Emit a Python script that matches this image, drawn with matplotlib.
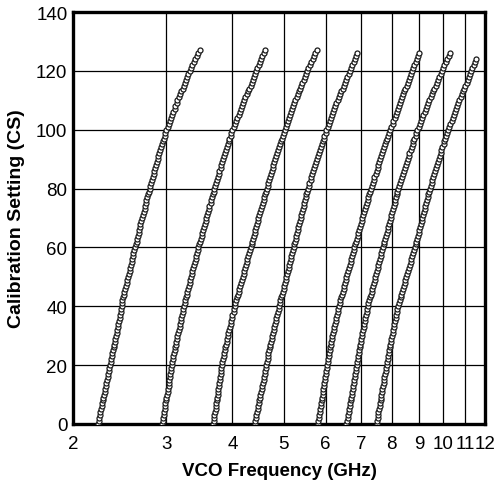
import matplotlib
matplotlib.use("Agg")
import matplotlib.pyplot as plt
from matplotlib.ticker import FixedLocator, FixedFormatter, NullLocator

plt.rcParams['font.family'] = ['Liberation Sans', 'DejaVu Sans']

# calibration settings (CS) and measured VCO frequency (GHz), one list per VCO band
cs_127 = list(range(128))
cs_126 = list(range(127))
cs_124 = list(range(125))

vco1 = [2.23, 2.24, 2.24, 2.25, 2.25, 2.26, 2.27, 2.27, 2.28, 2.28,
        2.29, 2.30, 2.30, 2.31, 2.31, 2.32, 2.33, 2.33, 2.34, 2.34,
        2.35, 2.36, 2.36, 2.37, 2.37, 2.38, 2.39, 2.39, 2.40, 2.40,
        2.41, 2.42, 2.42, 2.43, 2.43, 2.44, 2.45, 2.45, 2.46, 2.46,
        2.47, 2.48, 2.48, 2.49, 2.50, 2.50, 2.51, 2.52, 2.53, 2.53,
        2.54, 2.55, 2.56, 2.56, 2.57, 2.58, 2.59, 2.60, 2.60, 2.61,
        2.62, 2.63, 2.64, 2.64, 2.65, 2.66, 2.67, 2.68, 2.68, 2.69,
        2.70, 2.71, 2.72, 2.73, 2.74, 2.75, 2.75, 2.76, 2.77, 2.78,
        2.79, 2.80, 2.81, 2.82, 2.83, 2.84, 2.85, 2.86, 2.87, 2.88,
        2.89, 2.90, 2.91, 2.92, 2.93, 2.95, 2.96, 2.97, 2.98, 2.99,
        3.00, 3.02, 3.03, 3.05, 3.06, 3.08, 3.09, 3.11, 3.12, 3.14,
        3.15, 3.17, 3.18, 3.20, 3.22, 3.24, 3.25, 3.27, 3.29, 3.30,
        3.32, 3.34, 3.36, 3.38, 3.40, 3.43, 3.45, 3.47]

vco2 = [2.95, 2.96, 2.96, 2.97, 2.97, 2.98, 2.99, 2.99, 3.00, 3.00,
        3.01, 3.02, 3.02, 3.03, 3.03, 3.04, 3.05, 3.05, 3.06, 3.06,
        3.07, 3.08, 3.09, 3.09, 3.10, 3.11, 3.12, 3.13, 3.13, 3.14,
        3.15, 3.16, 3.17, 3.18, 3.19, 3.20, 3.20, 3.21, 3.22, 3.23,
        3.24, 3.25, 3.26, 3.27, 3.28, 3.29, 3.30, 3.31, 3.32, 3.33,
        3.34, 3.35, 3.36, 3.37, 3.38, 3.40, 3.41, 3.42, 3.43, 3.44,
        3.45, 3.46, 3.47, 3.49, 3.50, 3.51, 3.52, 3.53, 3.55, 3.56,
        3.57, 3.58, 3.60, 3.61, 3.62, 3.64, 3.65, 3.66, 3.67, 3.69,
        3.70, 3.71, 3.73, 3.74, 3.76, 3.77, 3.78, 3.80, 3.81, 3.83,
        3.84, 3.86, 3.87, 3.89, 3.90, 3.92, 3.94, 3.95, 3.97, 3.98,
        4.00, 4.02, 4.04, 4.06, 4.08, 4.11, 4.13, 4.15, 4.17, 4.19,
        4.21, 4.23, 4.26, 4.28, 4.30, 4.33, 4.35, 4.37, 4.39, 4.42,
        4.44, 4.46, 4.49, 4.51, 4.53, 4.55, 4.58, 4.60]

vco3 = [3.68, 3.69, 3.69, 3.70, 3.71, 3.72, 3.72, 3.73, 3.74, 3.74,
        3.75, 3.76, 3.76, 3.77, 3.78, 3.79, 3.79, 3.80, 3.81, 3.81,
        3.82, 3.83, 3.84, 3.85, 3.86, 3.87, 3.88, 3.89, 3.90, 3.91,
        3.92, 3.93, 3.94, 3.96, 3.97, 3.98, 3.99, 4.00, 4.02, 4.03,
        4.04, 4.05, 4.07, 4.08, 4.10, 4.11, 4.12, 4.14, 4.15, 4.17,
        4.18, 4.20, 4.21, 4.23, 4.24, 4.26, 4.27, 4.29, 4.30, 4.32,
        4.33, 4.35, 4.36, 4.38, 4.39, 4.41, 4.42, 4.44, 4.45, 4.47,
        4.48, 4.50, 4.51, 4.53, 4.54, 4.56, 4.58, 4.59, 4.61, 4.62,
        4.64, 4.66, 4.68, 4.69, 4.71, 4.73, 4.75, 4.77, 4.78, 4.80,
        4.82, 4.84, 4.86, 4.88, 4.90, 4.92, 4.94, 4.96, 4.98, 5.00,
        5.02, 5.04, 5.07, 5.09, 5.12, 5.14, 5.16, 5.19, 5.21, 5.24,
        5.26, 5.29, 5.31, 5.34, 5.37, 5.39, 5.42, 5.45, 5.48, 5.50,
        5.53, 5.56, 5.60, 5.63, 5.67, 5.70, 5.74, 5.77]

vco4 = [4.41, 4.42, 4.43, 4.44, 4.45, 4.47, 4.48, 4.49, 4.50, 4.51,
        4.52, 4.53, 4.54, 4.55, 4.56, 4.58, 4.59, 4.60, 4.61, 4.62,
        4.63, 4.64, 4.66, 4.67, 4.68, 4.70, 4.71, 4.72, 4.73, 4.75,
        4.76, 4.77, 4.79, 4.80, 4.82, 4.83, 4.84, 4.86, 4.87, 4.89,
        4.90, 4.92, 4.93, 4.95, 4.96, 4.98, 5.00, 5.01, 5.03, 5.04,
        5.06, 5.08, 5.09, 5.11, 5.12, 5.14, 5.16, 5.17, 5.19, 5.20,
        5.22, 5.24, 5.25, 5.27, 5.28, 5.30, 5.32, 5.33, 5.35, 5.36,
        5.38, 5.40, 5.41, 5.43, 5.45, 5.47, 5.48, 5.50, 5.52, 5.53,
        5.55, 5.57, 5.59, 5.62, 5.64, 5.66, 5.68, 5.70, 5.73, 5.75,
        5.77, 5.80, 5.82, 5.85, 5.87, 5.90, 5.92, 5.95, 5.97, 6.00,
        6.02, 6.05, 6.08, 6.11, 6.14, 6.17, 6.20, 6.23, 6.26, 6.29,
        6.32, 6.35, 6.39, 6.42, 6.46, 6.49, 6.52, 6.56, 6.59, 6.63,
        6.66, 6.70, 6.74, 6.78, 6.82, 6.85, 6.89]

vco5 = [5.80, 5.81, 5.82, 5.84, 5.85, 5.86, 5.87, 5.88, 5.90, 5.91,
        5.92, 5.93, 5.94, 5.96, 5.97, 5.98, 5.99, 6.00, 6.02, 6.03,
        6.04, 6.05, 6.07, 6.08, 6.10, 6.11, 6.12, 6.14, 6.15, 6.17,
        6.18, 6.20, 6.22, 6.23, 6.25, 6.27, 6.29, 6.31, 6.32, 6.34,
        6.36, 6.38, 6.40, 6.42, 6.44, 6.47, 6.49, 6.51, 6.53, 6.55,
        6.57, 6.59, 6.62, 6.64, 6.66, 6.69, 6.71, 6.73, 6.75, 6.78,
        6.80, 6.82, 6.85, 6.87, 6.90, 6.92, 6.94, 6.97, 6.99, 7.02,
        7.04, 7.07, 7.09, 7.12, 7.14, 7.17, 7.20, 7.22, 7.25, 7.27,
        7.30, 7.33, 7.36, 7.39, 7.42, 7.46, 7.49, 7.52, 7.55, 7.58,
        7.61, 7.64, 7.68, 7.71, 7.75, 7.78, 7.81, 7.85, 7.88, 7.92,
        7.95, 7.99, 8.03, 8.06, 8.10, 8.14, 8.18, 8.22, 8.25, 8.29,
        8.33, 8.37, 8.41, 8.45, 8.49, 8.54, 8.58, 8.62, 8.66, 8.70,
        8.74, 8.79, 8.83, 8.88, 8.93, 8.97, 9.02]

vco6 = [6.57, 6.59, 6.60, 6.62, 6.63, 6.65, 6.66, 6.68, 6.69, 6.71,
        6.72, 6.74, 6.75, 6.77, 6.78, 6.80, 6.81, 6.83, 6.84, 6.86,
        6.87, 6.89, 6.90, 6.92, 6.93, 6.95, 6.96, 6.98, 6.99, 7.01,
        7.02, 7.04, 7.06, 7.08, 7.10, 7.12, 7.13, 7.15, 7.17, 7.19,
        7.21, 7.23, 7.26, 7.28, 7.31, 7.33, 7.35, 7.38, 7.40, 7.43,
        7.45, 7.48, 7.50, 7.53, 7.55, 7.58, 7.60, 7.63, 7.65, 7.68,
        7.70, 7.73, 7.75, 7.78, 7.80, 7.83, 7.86, 7.88, 7.91, 7.93,
        7.96, 7.99, 8.01, 8.04, 8.07, 8.10, 8.12, 8.15, 8.18, 8.20,
        8.23, 8.26, 8.30, 8.33, 8.37, 8.40, 8.43, 8.47, 8.50, 8.54,
        8.57, 8.61, 8.64, 8.68, 8.72, 8.76, 8.79, 8.83, 8.87, 8.90,
        8.94, 8.99, 9.04, 9.08, 9.13, 9.18, 9.23, 9.28, 9.32, 9.37,
        9.42, 9.47, 9.52, 9.58, 9.63, 9.68, 9.73, 9.78, 9.84, 9.89,
        9.94, 10.00, 10.06, 10.12, 10.18, 10.24, 10.30]

vco7 = [7.49, 7.51, 7.52, 7.54, 7.55, 7.57, 7.59, 7.60, 7.62, 7.63,
        7.65, 7.67, 7.68, 7.70, 7.72, 7.74, 7.75, 7.77, 7.79, 7.80,
        7.82, 7.84, 7.86, 7.88, 7.90, 7.92, 7.93, 7.95, 7.97, 7.99,
        8.01, 8.03, 8.05, 8.07, 8.09, 8.12, 8.14, 8.16, 8.18, 8.20,
        8.22, 8.25, 8.28, 8.31, 8.34, 8.37, 8.40, 8.43, 8.46, 8.49,
        8.52, 8.55, 8.58, 8.62, 8.65, 8.68, 8.71, 8.74, 8.78, 8.81,
        8.84, 8.87, 8.90, 8.93, 8.96, 8.99, 9.02, 9.05, 9.08, 9.11,
        9.14, 9.17, 9.20, 9.23, 9.26, 9.29, 9.32, 9.35, 9.38, 9.41,
        9.44, 9.48, 9.51, 9.55, 9.59, 9.63, 9.66, 9.70, 9.74, 9.77,
        9.81, 9.85, 9.89, 9.93, 9.97, 10.02, 10.06, 10.10, 10.14, 10.18,
        10.22, 10.27, 10.32, 10.38, 10.43, 10.48, 10.53, 10.58, 10.64, 10.69,
        10.74, 10.80, 10.85, 10.91, 10.96, 11.02, 11.08, 11.13, 11.19, 11.24,
        11.30, 11.36, 11.43, 11.49, 11.55]

curves = [(vco1, cs_127), (vco2, cs_127), (vco3, cs_127), (vco4, cs_126),
          (vco5, cs_126), (vco6, cs_126), (vco7, cs_124)]

x_ticks = [2, 3, 4, 5, 6, 7, 8, 9, 10, 11, 12]
y_ticks = [0, 20, 40, 60, 80, 100, 120, 140]

fig = plt.figure(figsize=(4.95, 4.85), dpi=100)
ax = fig.add_axes([73 / 495, 60 / 485, 412 / 495, 412 / 485])

for freq, cs in curves:
    ax.plot(freq, cs, linestyle='none', marker='o', markersize=3.6,
            markerfacecolor='white', markeredgecolor='#1a1a1a',
            markeredgewidth=0.9, zorder=3)

ax.set_xscale('log')
ax.set_xlim(2, 12)
ax.set_ylim(0, 140)
ax.xaxis.set_major_locator(FixedLocator(x_ticks))
ax.xaxis.set_major_formatter(FixedFormatter([str(t) for t in x_ticks]))
ax.xaxis.set_minor_locator(NullLocator())
ax.set_yticks(y_ticks)

ax.grid(True, color='black', linewidth=0.9)
ax.set_axisbelow(True)
for sp in ax.spines.values():
    sp.set_linewidth(2.4)
    sp.set_color('black')

ax.tick_params(axis='both', length=0, labelsize=13.5)
ax.tick_params(axis='x', pad=8)
ax.tick_params(axis='y', pad=4)

ax.set_xlabel('VCO Frequency (GHz)', fontsize=13.5, fontweight='bold', labelpad=7)
ax.set_ylabel('Calibration Setting (CS)', fontsize=14, fontweight='bold', labelpad=8)

fig.savefig('out.png', dpi=100)
